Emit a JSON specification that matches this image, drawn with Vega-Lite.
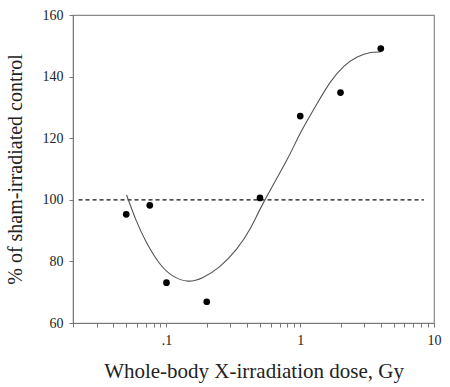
{
  "$schema": "https://vega.github.io/schema/vega-lite/v6.json",
  "autosize": "none",
  "width": 361,
  "height": 308,
  "padding": {"left": 73, "top": 15, "right": 16, "bottom": 64},
  "background": "white",
  "config": {
    "view": {"stroke": "#8a8a8a", "strokeWidth": 1.2},
    "font": "Liberation Serif",
    "axis": {
      "domainColor": "#777777",
      "tickColor": "#777777",
      "labelColor": "#222222",
      "titleColor": "#222222",
      "labelFont": "Liberation Serif",
      "titleFont": "Liberation Serif",
      "titleFontWeight": "normal",
      "labelFontSize": 14,
      "titleFontSize": 20,
      "grid": false
    }
  },
  "datasets": {
    "points": [
      {"dose": 0.05, "pct": 95.3},
      {"dose": 0.075, "pct": 98.2},
      {"dose": 0.1, "pct": 73.1},
      {"dose": 0.2, "pct": 66.9},
      {"dose": 0.5, "pct": 100.6},
      {"dose": 1, "pct": 127.2},
      {"dose": 2, "pct": 134.8},
      {"dose": 4, "pct": 149.1}
    ],
    "curve": [
      {"dose": 0.0503, "pct": 101.6},
      {"dose": 0.0592, "pct": 93.4},
      {"dose": 0.0704, "pct": 86.4},
      {"dose": 0.0886, "pct": 79.4},
      {"dose": 0.1115, "pct": 75.3},
      {"dose": 0.1446, "pct": 73.6},
      {"dose": 0.1875, "pct": 74.8},
      {"dose": 0.25, "pct": 78.3},
      {"dose": 0.334, "pct": 84.0},
      {"dose": 0.421, "pct": 90.5},
      {"dose": 0.53, "pct": 99.0},
      {"dose": 0.794, "pct": 112.9},
      {"dose": 1, "pct": 121.6},
      {"dose": 1.335, "pct": 131.2},
      {"dose": 1.68, "pct": 138.2},
      {"dose": 2.117, "pct": 143.3},
      {"dose": 2.67, "pct": 146.4},
      {"dose": 3.36, "pct": 147.8},
      {"dose": 4.0, "pct": 148.0}
    ],
    "ref": [
      {"dose": 0.022, "pct": 100},
      {"dose": 8.4, "pct": 100}
    ]
  },
  "layer": [
    {
      "data": {"name": "ref"},
      "mark": {"type": "line", "color": "#111111", "strokeWidth": 1.3, "strokeDash": [4, 3]},
      "encoding": {
        "x": {
          "field": "dose", "type": "quantitative",
          "scale": {"type": "log", "domain": [0.02, 10], "nice": false},
          "axis": {
            "title": "Whole-body X-irradiation dose, Gy",
            "values": [0.02, 0.03, 0.04, 0.05, 0.06, 0.07, 0.08, 0.09, 0.1, 0.2, 0.3, 0.4, 0.5, 0.6, 0.7, 0.8, 0.9, 1, 2, 3, 4, 5, 6, 7, 8, 9, 10],
            "labelExpr": "datum.value == 0.1 ? '.1' : (datum.value == 1 ? '1' : (datum.value == 10 ? '10' : ''))",
            "tickSize": 4,
            "labelPadding": 6,
            "titlePadding": 13,
            "titleFontSize": 21,
            "labelFlush": false
          }
        },
        "y": {
          "field": "pct", "type": "quantitative",
          "scale": {"domain": [60, 160], "nice": false, "zero": false},
          "axis": {
            "title": "% of sham-irradiated control",
            "values": [60, 65, 70, 75, 80, 85, 90, 95, 100, 105, 110, 115, 120, 125, 130, 135, 140, 145, 150, 155, 160],
            "labelExpr": "datum.value % 20 == 0 ? datum.label : ''",
            "tickSize": 4,
            "labelPadding": 6,
            "titlePadding": 17
          }
        }
      }
    },
    {
      "data": {"name": "curve"},
      "mark": {"type": "line", "color": "#555555", "strokeWidth": 1.1, "interpolate": "natural"},
      "encoding": {
        "x": {"field": "dose", "type": "quantitative"},
        "y": {"field": "pct", "type": "quantitative"}
      }
    },
    {
      "data": {"name": "points"},
      "mark": {"type": "point", "filled": true, "color": "#000000", "opacity": 1, "size": 45},
      "encoding": {
        "x": {"field": "dose", "type": "quantitative"},
        "y": {"field": "pct", "type": "quantitative"}
      }
    }
  ]
}
